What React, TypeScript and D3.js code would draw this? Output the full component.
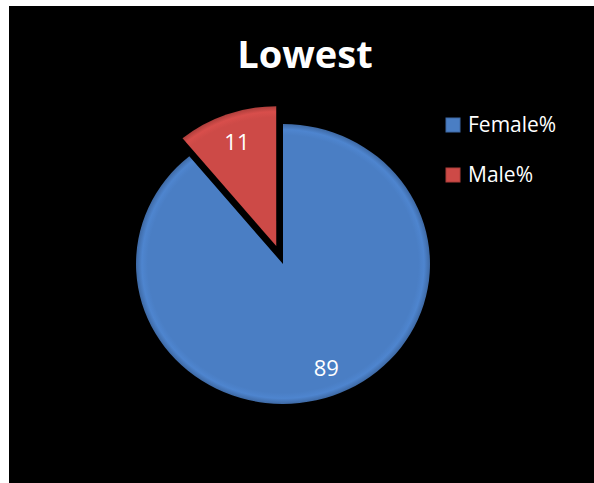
import React, { FC, useMemo } from 'react'
import * as d3 from 'd3'

const categories = ['Female%', 'Male%']
const values = [89, 11]
const colors = ['#4a7ec4', '#cd4a47']
const title = 'Lowest'

const W = 594
const H = 483

const App: FC = () => {
	const cx = 283
	const cy = 264
	const r = 147
	const squash = 0.952
	const explode = [0, 20]

	const arcs = useMemo(() => {
		return d3
			.pie<number>()
			.sort(null)
			.value((d) => d)(values)
	}, [])

	const arcGen = d3.arc<d3.PieArcDatum<number>>().innerRadius(0).outerRadius(r)

	return (
		<div style={{ position: 'absolute', left: 0, top: 0, width: W, height: H, background: '#fff' }}>
			<svg width={W} height={H} style={{ display: 'block' }}>
				<defs>
					{colors.map((c, i) => (
						<radialGradient key={i} id={`g${i}`} cx="0" cy="0" r={r} gradientUnits="userSpaceOnUse">
							<stop offset="0" stopColor={c} />
							<stop offset="0.92" stopColor={c} />
							<stop offset="0.96" stopColor={d3.color(c)!.brighter(0.15).toString()} />
							<stop offset="1" stopColor={d3.color(c)!.darker(0.5).toString()} />
						</radialGradient>
					))}
				</defs>
				<rect x={9} y={6} width={W - 9} height={H - 6} fill="#000" />
				<text
					x={305}
					y={68}
					textAnchor="middle"
					fill="#fff"
					fontFamily="'Open Sans', sans-serif"
					fontWeight="bold"
					fontSize={38}
				>
					{title}
				</text>
				{/* slices */}
				{arcs.map((a, i) => {
					const mid = (a.startAngle + a.endAngle) / 2
					const off = explode[i]
					const dx = Math.sin(mid) * off
					const dy = -Math.cos(mid) * off
					return (
						<g key={i} transform={`translate(${cx},${cy}) scale(1,${squash}) translate(${dx},${dy})`}>
							<path d={arcGen(a) || ''} fill={`url(#g${i})`} />
						</g>
					)
				})}
				{/* labels */}
				{arcs.map((a, i) => {
					const mid = (a.startAngle + a.endAngle) / 2
					const rr = 116 + explode[i]
					const x = cx + Math.sin(mid) * rr + (i === 0 ? 4 : 0)
					const y = cy - Math.cos(mid) * rr * squash
					return (
						<text
							key={i}
							x={x}
							y={y}
							dy="0.35em"
							textAnchor="middle"
							fill="#fff"
							fontFamily="'Open Sans', sans-serif"
							fontSize={22}
						>
							{a.data}
						</text>
					)
				})}
				{/* legend */}
				{categories.map((c, i) => (
					<g key={c} transform={`translate(446,${118 + i * 50})`}>
						<rect width={14} height={14} fill={colors[i]} stroke={d3.color(colors[i])!.darker(0.5).toString()} strokeWidth={1} />
						<text x={22} y={7} dy="0.35em" fill="#fff" fontFamily="'Open Sans', sans-serif" fontSize={21}>
							{c}
						</text>
					</g>
				))}
			</svg>
		</div>
	)
}

export default App
